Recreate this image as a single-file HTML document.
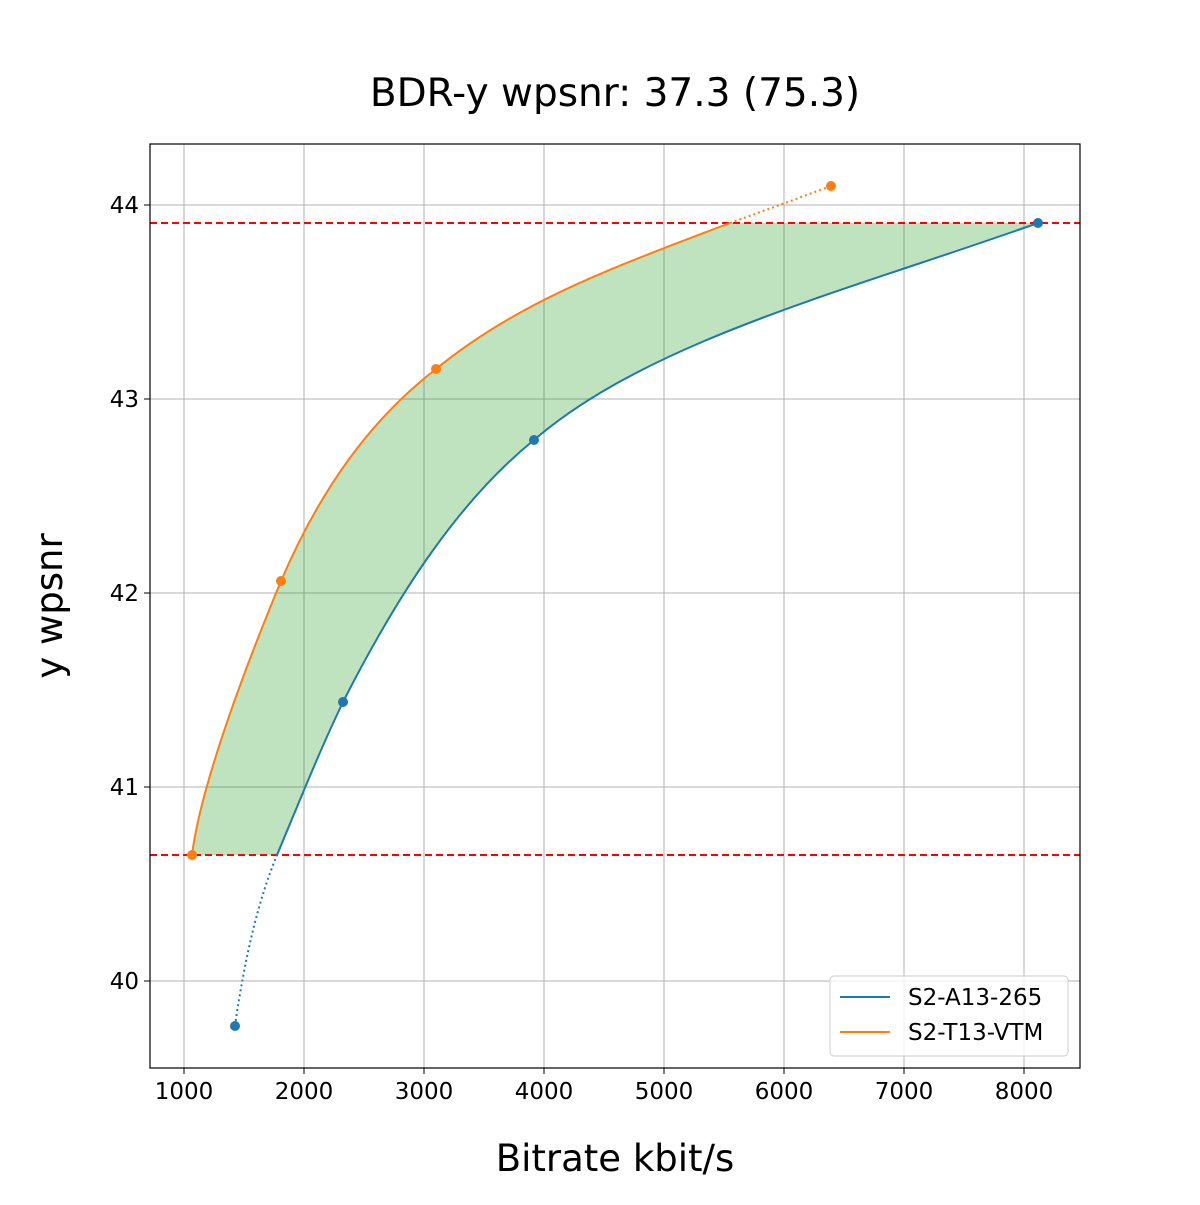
<!DOCTYPE html>
<html><head><meta charset="utf-8"><style>body{margin:0;background:#fff}</style></head><body>
<svg width="1200" height="1200" xmlns="http://www.w3.org/2000/svg" font-family="'DejaVu Sans','Liberation Sans',sans-serif">
<rect width="1200" height="1200" fill="#fff"/>
<text x="615" y="106" font-size="39" text-anchor="middle" fill="#000">BDR-y wpsnr: 37.3 (75.3)</text>
<g stroke="#b0b0b0" stroke-width="1">
<line x1="184" y1="144" x2="184" y2="1068"/><line x1="304" y1="144" x2="304" y2="1068"/>
<line x1="424" y1="144" x2="424" y2="1068"/><line x1="544" y1="144" x2="544" y2="1068"/>
<line x1="664" y1="144" x2="664" y2="1068"/><line x1="784" y1="144" x2="784" y2="1068"/>
<line x1="904" y1="144" x2="904" y2="1068"/><line x1="1024" y1="144" x2="1024" y2="1068"/>
<line x1="150" y1="205" x2="1080" y2="205"/><line x1="150" y1="399" x2="1080" y2="399"/>
<line x1="150" y1="593" x2="1080" y2="593"/><line x1="150" y1="787" x2="1080" y2="787"/>
<line x1="150" y1="981" x2="1080" y2="981"/>
</g>
<path d="M192,855 C200,790 240,680 281,581 C320,490 370,420 436,369 C520,300 620,265 730,223 L1038,223 C850,290 650,340 534,440 C460,500 400,590 343,702 C320,750 300,800 277,855 Z" fill="#2ca02c" fill-opacity="0.3"/>
<line x1="150" y1="223" x2="1080" y2="223" stroke="#ff0000" stroke-width="2" stroke-dasharray="7,4"/>
<line x1="150" y1="855" x2="1080" y2="855" stroke="#ff0000" stroke-width="2" stroke-dasharray="7,4"/>
<path d="M192,855 C200,790 240,680 281,581 C320,490 370,420 436,369 C520,300 620,265 730,223" fill="none" stroke="#ff7f0e" stroke-width="2"/>
<path d="M730,223 Q780,205 831,186" fill="none" stroke="#ff7f0e" stroke-width="2" stroke-dasharray="2,3"/>
<path d="M277,855 C300,800 320,750 343,702 C400,590 460,500 534,440 C650,340 850,290 1038,223" fill="none" stroke="#1f77b4" stroke-width="2"/>
<path d="M235,1026 Q250,920 277,855" fill="none" stroke="#1f77b4" stroke-width="2" stroke-dasharray="2,3"/>
<g fill="#ff7f0e"><circle cx="192" cy="855" r="5"/><circle cx="281" cy="581" r="5"/><circle cx="436" cy="369" r="5"/><circle cx="831" cy="186" r="5"/></g>
<g fill="#1f77b4"><circle cx="235" cy="1026" r="5"/><circle cx="343" cy="702" r="5"/><circle cx="534" cy="440" r="5"/><circle cx="1038" cy="223" r="5"/></g>
<rect x="150" y="144" width="930" height="924" fill="none" stroke="#000" stroke-width="1.2"/>
<g stroke="#000"><line x1="184" y1="1068" x2="184" y2="1074"/><line x1="304" y1="1068" x2="304" y2="1074"/><line x1="424" y1="1068" x2="424" y2="1074"/><line x1="544" y1="1068" x2="544" y2="1074"/><line x1="664" y1="1068" x2="664" y2="1074"/><line x1="784" y1="1068" x2="784" y2="1074"/><line x1="904" y1="1068" x2="904" y2="1074"/><line x1="1024" y1="1068" x2="1024" y2="1074"/>
<line x1="144" y1="205" x2="150" y2="205"/><line x1="144" y1="399" x2="150" y2="399"/><line x1="144" y1="593" x2="150" y2="593"/><line x1="144" y1="787" x2="150" y2="787"/><line x1="144" y1="981" x2="150" y2="981"/></g>
<g font-size="23" text-anchor="middle" fill="#000">
<text x="184" y="1099">1000</text><text x="304" y="1099">2000</text><text x="424" y="1099">3000</text><text x="544" y="1099">4000</text><text x="664" y="1099">5000</text><text x="784" y="1099">6000</text><text x="904" y="1099">7000</text><text x="1024" y="1099">8000</text>
</g>
<g font-size="23" text-anchor="end" fill="#000">
<text x="139" y="213">44</text><text x="139" y="407">43</text><text x="139" y="601">42</text><text x="139" y="795">41</text><text x="139" y="989">40</text>
</g>
<text x="615" y="1171" font-size="37" text-anchor="middle" fill="#000">Bitrate kbit/s</text>
<text transform="translate(62,606) rotate(-90)" font-size="37" text-anchor="middle" fill="#000">y wpsnr</text>
<rect x="830" y="976" width="238" height="80" rx="4" fill="#fff" fill-opacity="0.8" stroke="#ccc"/>
<line x1="840" y1="997" x2="890" y2="997" stroke="#1f77b4" stroke-width="2"/>
<line x1="840" y1="1032" x2="890" y2="1032" stroke="#ff7f0e" stroke-width="2"/>
<text x="908" y="1005" font-size="23" fill="#000">S2-A13-265</text>
<text x="908" y="1040" font-size="23" fill="#000">S2-T13-VTM</text>
</svg>
</body></html>
